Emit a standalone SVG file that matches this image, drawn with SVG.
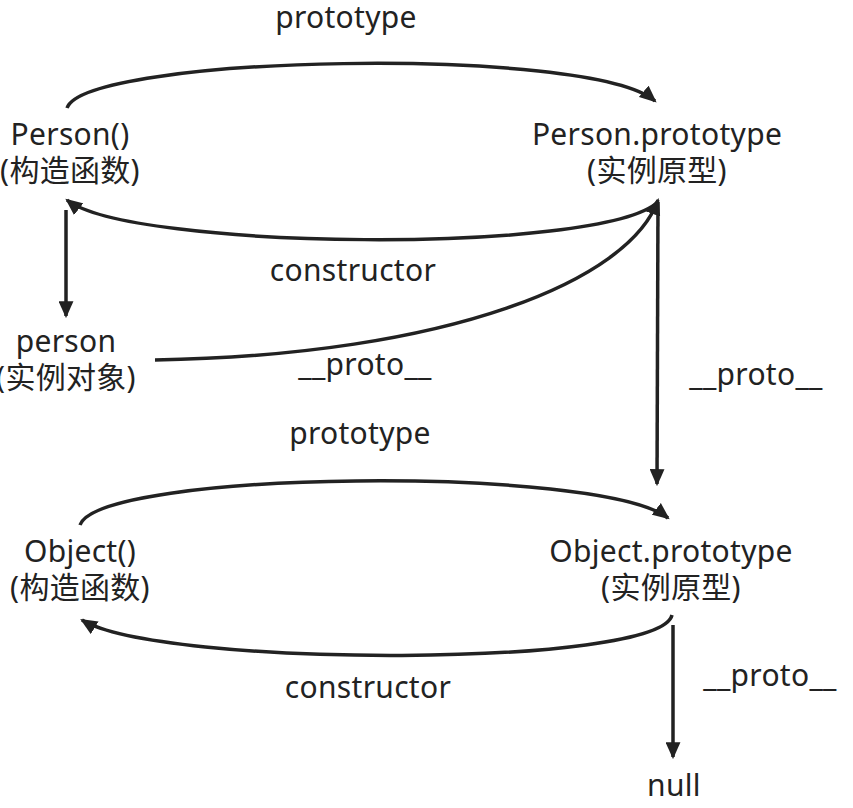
<svg xmlns="http://www.w3.org/2000/svg" width="853" height="808" viewBox="0 0 853 808">
<defs>
<marker id="arr" viewBox="0 0 16 14" refX="14" refY="7" markerWidth="17" markerHeight="15" markerUnits="userSpaceOnUse" orient="auto">
<path d="M0,0 L16,7 L0,14 z" fill="#222"/>
</marker>
<style>
text{font-family:"Noto Sans","Noto Sans CJK SC",sans-serif;font-size:30px;letter-spacing:0.3px;fill:#222;text-anchor:middle}
.c{fill:none;stroke:#222;stroke-width:3.5}
</style>
</defs>
<rect width="853" height="808" fill="#fff"/>
<g id="connectors">
<path class="c" d="M67,108 C85,55 590,45 655,101" marker-end="url(#arr)"/>
<path class="c" d="M658,202 C600,255 130,250 67,200" marker-end="url(#arr)"/>
<path class="c" d="M66,210 L66,316" marker-end="url(#arr)"/>
<path class="c" d="M155,360 C450,355 630,280 658,200" marker-end="url(#arr)"/>
<path class="c" d="M658,202 L657,484" marker-end="url(#arr)"/>
<path class="c" d="M80,525 C100,470 600,465 668,518" marker-end="url(#arr)"/>
<path class="c" d="M672,615 C660,668 160,668 82,620" marker-end="url(#arr)"/>
<path class="c" d="M673,625 L673,757" marker-end="url(#arr)"/>
<text x="346" y="28">prototype</text>
<text x="353" y="281">constructor</text>
<text x="365" y="375">__proto__</text>
<text x="756" y="385">__proto__</text>
<text x="360" y="444">prototype</text>
<text x="368" y="698">constructor</text>
<text x="770" y="686">__proto__</text>
</g>
<g id="person-ctor"><text x="70" y="145">Person()</text><text x="70" y="181">(构造函数)</text></g>
<g id="person-proto"><text x="657" y="145">Person.prototype</text><text x="657" y="181">(实例原型)</text></g>
<g id="person"><text x="66" y="352">person</text><text x="66" y="388">(实例对象)</text></g>
<g id="object-ctor"><text x="80" y="562">Object()</text><text x="80" y="598">(构造函数)</text></g>
<g id="object-proto"><text x="671" y="562">Object.prototype</text><text x="671" y="598">(实例原型)</text></g>
<g id="null"><text x="674" y="796">null</text></g>
</svg>
